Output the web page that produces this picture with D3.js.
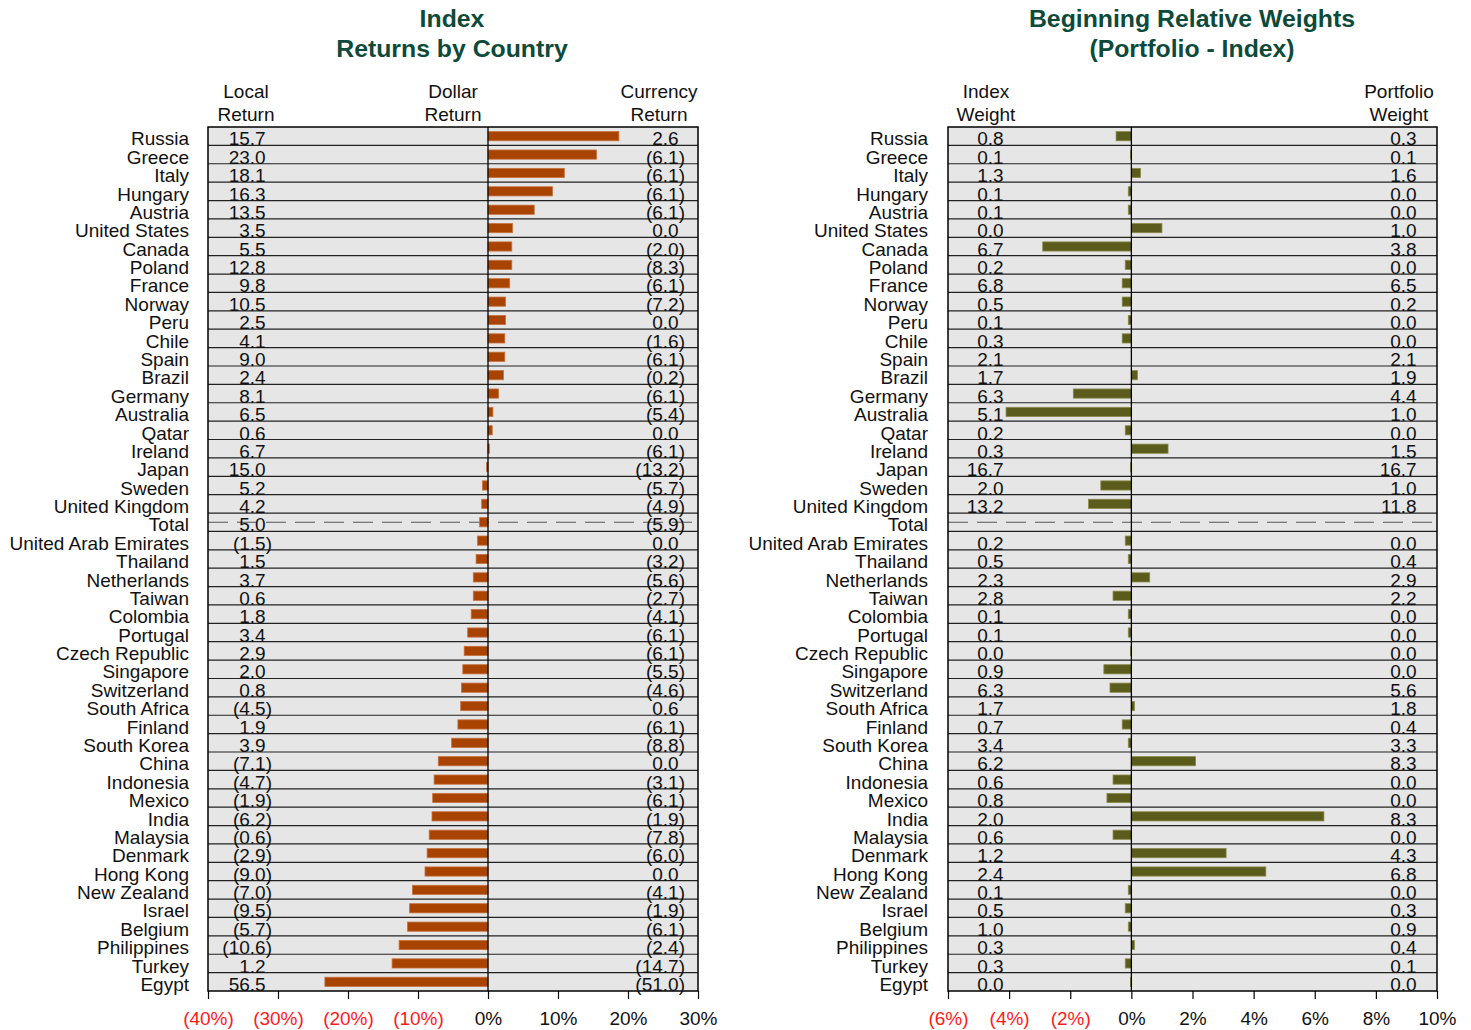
<!DOCTYPE html>
<html>
<head>
<meta charset="utf-8">
<script src="https://cdn.jsdelivr.net/npm/d3@7"></script>
<style>
  html, body { margin: 0; padding: 0; background: #fff; }
  svg { display: block; font-family: "Liberation Sans", Arial, Helvetica, sans-serif; }
</style>
</head>
<body>
<svg id="chart" width="1471" height="1030"></svg>
<script>
// ---------- DATA ----------
const countries = ["Russia","Greece","Italy","Hungary","Austria","United States","Canada","Poland","France","Norway","Peru","Chile","Spain","Brazil","Germany","Australia","Qatar","Ireland","Japan","Sweden","United Kingdom","Total","United Arab Emirates","Thailand","Netherlands","Taiwan","Colombia","Portugal","Czech Republic","Singapore","Switzerland","South Africa","Finland","South Korea","China","Indonesia","Mexico","India","Malaysia","Denmark","Hong Kong","New Zealand","Israel","Belgium","Philippines","Turkey","Egypt"];

const localReturn = [15.7,23.0,18.1,16.3,13.5,3.5,5.5,12.8,9.8,10.5,2.5,4.1,9.0,2.4,8.1,6.5,0.6,6.7,15.0,5.2,4.2,5.0,-1.5,1.5,3.7,0.6,1.8,3.4,2.9,2.0,0.8,-4.5,1.9,3.9,-7.1,-4.7,-1.9,-6.2,-0.6,-2.9,-9.0,-7.0,-9.5,-5.7,-10.6,1.2,56.5];

const currencyReturn = [2.6,-6.1,-6.1,-6.1,-6.1,0.0,-2.0,-8.3,-6.1,-7.2,0.0,-1.6,-6.1,-0.2,-6.1,-5.4,0.0,-6.1,-13.2,-5.7,-4.9,-5.9,0.0,-3.2,-5.6,-2.7,-4.1,-6.1,-6.1,-5.5,-4.6,0.6,-6.1,-8.8,0.0,-3.1,-6.1,-1.9,-7.8,-6.0,0.0,-4.1,-1.9,-6.1,-2.4,-14.7,-51.0];

const dollarReturn = [18.7,15.5,10.9,9.2,6.6,3.5,3.4,3.4,3.1,2.5,2.5,2.4,2.4,2.2,1.5,0.7,0.6,0.2,-0.2,-0.8,-0.9,-1.2,-1.5,-1.7,-2.1,-2.1,-2.4,-2.9,-3.4,-3.6,-3.8,-3.9,-4.3,-5.2,-7.1,-7.7,-7.9,-8.0,-8.4,-8.7,-9.0,-10.8,-11.2,-11.5,-12.7,-13.7,-23.3];

const indexWeight = [0.8,0.1,1.3,0.1,0.1,0.0,6.7,0.2,6.8,0.5,0.1,0.3,2.1,1.7,6.3,5.1,0.2,0.3,16.7,2.0,13.2,null,0.2,0.5,2.3,2.8,0.1,0.1,0.0,0.9,6.3,1.7,0.7,3.4,6.2,0.6,0.8,2.0,0.6,1.2,2.4,0.1,0.5,1.0,0.3,0.3,0.0];

const portfolioWeight = [0.3,0.1,1.6,0.0,0.0,1.0,3.8,0.0,6.5,0.2,0.0,0.0,2.1,1.9,4.4,1.0,0.0,1.5,16.7,1.0,11.8,null,0.0,0.4,2.9,2.2,0.0,0.0,0.0,0.0,5.6,1.8,0.4,3.3,8.3,0.0,0.0,8.3,0.0,4.3,6.8,0.0,0.3,0.9,0.4,0.1,0.0];

const relativeWeight = [-0.5,-0.03,0.3,-0.1,-0.1,1.0,-2.9,-0.2,-0.3,-0.3,-0.1,-0.3,0.0,0.2,-1.9,-4.1,-0.2,1.2,-0.03,-1.0,-1.4,null,-0.2,-0.1,0.6,-0.6,-0.1,-0.1,-0.03,-0.9,-0.7,0.1,-0.3,-0.1,2.1,-0.6,-0.8,6.3,-0.6,3.1,4.4,-0.1,-0.2,-0.1,0.1,-0.2,-0.03];

const leftTicks = [-40,-30,-20,-10,0,10,20,30];
const rightTicks = [-6,-4,-2,0,2,4,6,8,10];

// ---------- LAYOUT ----------
const svg = d3.select("#chart");
const plotTop = 127, plotBottom = 991;
const y = d3.scaleBand().domain(countries).range([plotTop, plotBottom]).padding(0);
const bw = y.bandwidth();

const xL = d3.scaleLinear().domain([-40, 30]).range([208, 698]);
const xR = d3.scaleLinear().domain([-6, 10]).range([948, 1437]);

const titleColor = "#0d4a3a";
const fontSize = 19;

function fmt(v) { return v < 0 ? "(" + Math.abs(v).toFixed(1) + ")" : v.toFixed(1); }
function pctFmt(v) { return v < 0 ? "(" + Math.abs(v) + "%)" : v + "%"; }

// number label with accounting-style alignment (hidden ")" for positives)
function numLabel(g, xEnd, vals) {
  const sel = g.selectAll(null).data(vals.map((v, i) => ({v, i})).filter(d => d.v !== null))
    .enter().append("text")
    .attr("x", xEnd)
    .attr("y", d => y(countries[d.i]) + bw)
    .attr("text-anchor", "end")
    .attr("font-size", fontSize)
    .attr("fill", "#111");
  sel.append("tspan").text(d => fmt(d.v));
  sel.filter(d => d.v >= 0).append("tspan").attr("fill-opacity", 0).text(")");
}

function panel(opts) {
  const g = svg.append("g");
  const x = opts.x;
  const [x0, x1] = x.range();
  // background
  g.append("rect").attr("x", x0).attr("y", plotTop).attr("width", x1 - x0).attr("height", plotBottom - plotTop)
    .attr("fill", "#e6e6e6");
  // row lines
  g.selectAll(null).data(countries.slice(1)).enter().append("line")
    .attr("x1", x0).attr("x2", x1)
    .attr("y1", d => y(d)).attr("y2", d => y(d))
    .attr("stroke", "#222").attr("stroke-width", 1.2);
  // total dashed line
  g.append("line").attr("x1", x0).attr("x2", x1)
    .attr("y1", y("Total") + bw / 2).attr("y2", y("Total") + bw / 2)
    .attr("stroke", "#555").attr("stroke-width", 1.1).attr("stroke-dasharray", "20,9");
  // bars
  g.selectAll(null).data(opts.bars.map((v, i) => ({v, i})).filter(d => d.v !== null))
    .enter().append("rect")
    .attr("x", d => x(Math.min(0, d.v)))
    .attr("width", d => Math.abs(x(d.v) - x(0)))
    .attr("y", d => y(countries[d.i]) + bw * 0.25)
    .attr("height", bw * 0.5)
    .attr("fill", opts.color)
    .attr("stroke", opts.edge).attr("stroke-width", 0.8);
  // zero line
  g.append("line").attr("x1", x(0)).attr("x2", x(0)).attr("y1", plotTop).attr("y2", plotBottom)
    .attr("stroke", "#000").attr("stroke-width", 1.3);
  // border
  g.append("rect").attr("x", x0).attr("y", plotTop).attr("width", x1 - x0).attr("height", plotBottom - plotTop)
    .attr("fill", "none").attr("stroke", "#000").attr("stroke-width", 1.5);
  // country labels
  g.selectAll(null).data(countries).enter().append("text")
    .attr("x", opts.labelX).attr("y", d => y(d) + bw)
    .attr("text-anchor", "end").attr("font-size", fontSize).attr("fill", "#111")
    .text(d => d);
  // values
  opts.cols.forEach(c => numLabel(g, c.x, c.vals));
  // headers
  opts.headers.forEach(h => {
    const t = g.append("text").attr("x", h.x).attr("text-anchor", "middle")
      .attr("font-size", fontSize).attr("fill", "#111");
    t.append("tspan").attr("x", h.x).attr("y", 98).text(h.l1);
    t.append("tspan").attr("x", h.x).attr("y", 121).text(h.l2);
  });
  // title
  const tt = g.append("text").attr("text-anchor", "middle").attr("font-size", 24.8)
    .attr("font-weight", "bold").attr("fill", titleColor);
  tt.append("tspan").attr("x", opts.titleX).attr("y", 27).text(opts.title[0]);
  tt.append("tspan").attr("x", opts.titleX).attr("y", 56.5).text(opts.title[1]);
  // axis
  const ax = g.append("g").attr("transform", `translate(0,${plotBottom})`)
    .call(d3.axisBottom(x).tickValues(opts.ticks).tickFormat(pctFmt).tickSize(8).tickSizeOuter(0).tickPadding(13));
  ax.select(".domain").remove();
  ax.selectAll(".tick line").attr("stroke", "#000").attr("stroke-width", 1.2);
  ax.selectAll(".tick text")
    .attr("font-size", fontSize)
    .attr("font-family", "\"Liberation Sans\", Arial, Helvetica, sans-serif")
    .attr("fill", d => d < 0 ? "#ff1a1a" : "#111");
}

panel({
  x: xL,
  bars: dollarReturn,
  color: "#a84300",
  edge: "#c8703e",
  labelX: 189,
  cols: [{x: 272, vals: localReturn}, {x: 685, vals: currencyReturn}],
  headers: [{x: 246, l1: "Local", l2: "Return"}, {x: 453, l1: "Dollar", l2: "Return"}, {x: 659, l1: "Currency", l2: "Return"}],
  title: ["Index", "Returns by Country"],
  titleX: 452,
  ticks: leftTicks
});

panel({
  x: xR,
  bars: relativeWeight,
  color: "#5b5b1c",
  edge: "#8a8a4a",
  labelX: 928,
  cols: [{x: 1010, vals: indexWeight}, {x: 1423, vals: portfolioWeight}],
  headers: [{x: 986, l1: "Index", l2: "Weight"}, {x: 1399, l1: "Portfolio", l2: "Weight"}],
  title: ["Beginning Relative Weights", "(Portfolio - Index)"],
  titleX: 1192,
  ticks: rightTicks
});
</script>
</body>
</html>
